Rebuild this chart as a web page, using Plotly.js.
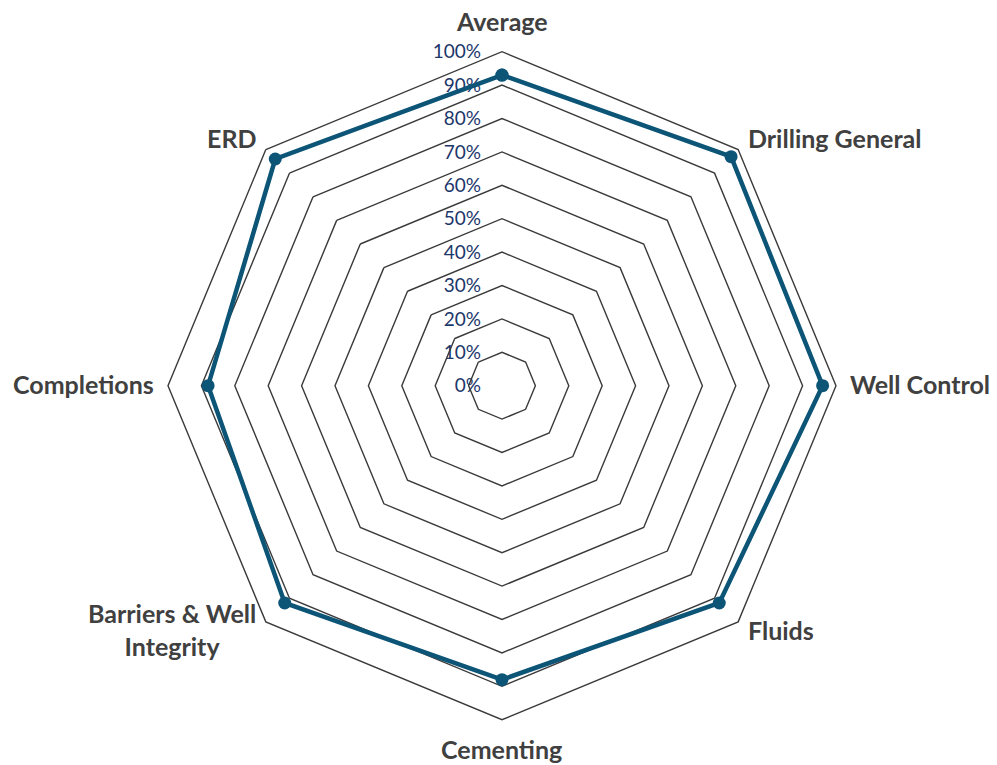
<!DOCTYPE html>
<html>
<head>
<meta charset="utf-8">
<script src="https://cdn.plot.ly/plotly-3.0.1.min.js"></script>
<style>html,body{margin:0;padding:0;background:#fff;}#chart{width:997px;height:765px;}</style>
</head>
<body>
<div id="chart"></div>
<script>
var categories = ["Average", "Drilling General", "Well Control", "Fluids", "Cementing", "Barriers & Well<br>Integrity", "Completions", "ERD"];
var scores = [93, 97, 96, 92, 88, 92, 88, 96];
var tickValues = [0, 10, 20, 30, 40, 50, 60, 70, 80, 90, 100];
var tickLabels = ["0%", "10%", "20%", "30%", "40%", "50%", "60%", "70%", "80%", "90%", "100%"];

var W = 997, H = 765;
var dom = {x: [0.1685, 0.8385], y: [0.0592, 0.9324]};
var cx = (dom.x[0] + dom.x[1]) / 2 * W;
var cyPaper = (dom.y[0] + dom.y[1]) / 2;
var cy = (1 - cyPaper) * H;
var R = (dom.y[1] - dom.y[0]) * H / 2;

var lineColor = "#0D5577";
var gridColor = "#3a3a3a";
var labelFont = {family: "Lato, 'Open Sans', sans-serif", size: 25, color: "#404040", weight: "bold"};

var trace = {
  type: "scatterpolar",
  r: scores.concat([scores[0]]),
  theta: categories.concat([categories[0]]),
  mode: "lines+markers",
  line: {color: lineColor, width: 4.5},
  marker: {color: lineColor, size: 13},
  hoverinfo: "skip"
};

// helper trace so the cartesian axis carrying the radial tick labels is drawn
var axisTrace = {type: "scatter", x: [], y: [], xaxis: "x", yaxis: "y", hoverinfo: "skip"};

var annotations = categories.map(function (c, i) {
  var a = (90 - i * 360 / categories.length) * Math.PI / 180;
  var cs = Math.cos(a), sn = Math.sin(a);
  var px = cx + R * cs, py = cy - R * sn;
  var vert = Math.abs(sn) > 0.9;
  return {
    xref: "paper", yref: "paper",
    x: px / W, y: 1 - py / H,
    text: c, showarrow: false,
    font: labelFont, align: "center", borderpad: 0,
    xanchor: cs > 0.1 ? "left" : (cs < -0.1 ? "right" : "center"),
    yanchor: "middle",
    xshift: 13 * cs,
    yshift: vert ? (sn > 0 ? 31 : -29) : 14 * sn + 2
  };
});

var layout = {
  width: W, height: H,
  margin: {l: 0, r: 0, t: 0, b: 0},
  paper_bgcolor: "#ffffff",
  plot_bgcolor: "rgba(0,0,0,0)",
  showlegend: false,
  annotations: annotations,
  xaxis: {visible: false, domain: [0, 1], range: [0, 1], fixedrange: true},
  yaxis: {
    domain: [cyPaper, dom.y[1]],
    range: [0, 100],
    anchor: "free",
    position: 481 / W,
    side: "left",
    showline: false, showgrid: false, zeroline: false,
    ticks: "",
    tickmode: "array",
    tickvals: tickValues,
    ticktext: tickLabels,
    ticklabelstandoff: 0,
    tickfont: {family: "Lato, 'Open Sans', sans-serif", size: 19, color: "#1C376B"},
    fixedrange: true
  },
  polar: {
    domain: dom,
    gridshape: "linear",
    bgcolor: "rgba(0,0,0,0)",
    angularaxis: {
      rotation: 90,
      direction: "clockwise",
      showgrid: false,
      showline: true,
      linecolor: gridColor,
      linewidth: 1.4,
      ticks: "",
      showticklabels: false
    },
    radialaxis: {
      range: [0, 100],
      angle: 90,
      showline: false,
      showgrid: true,
      gridcolor: gridColor,
      gridwidth: 1.4,
      ticks: "",
      showticklabels: false,
      tickmode: "array",
      tickvals: tickValues
    }
  }
};

Plotly.newPlot("chart", [trace, axisTrace], layout, {displayModeBar: false, staticPlot: true});
</script>
</body>
</html>
